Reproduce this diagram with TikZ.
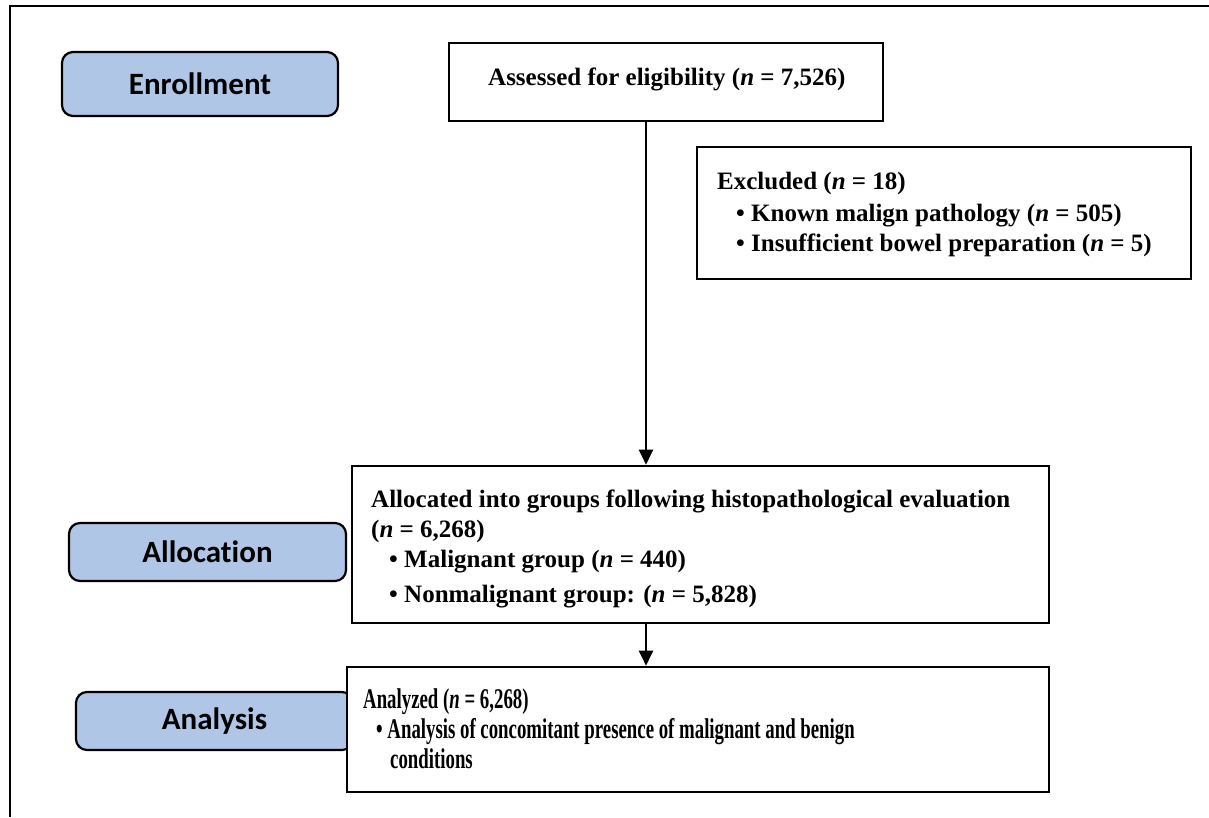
\documentclass[tikz,border=0pt]{standalone}
\usepackage{fontspec}
\setmainfont{Liberation Serif}
\newfontfamily\labelfont[Ligatures={NoCommon,NoRare}]{Carlito}
\newfontfamily\condfont[FakeStretch=0.66]{Liberation Serif}
\usetikzlibrary{arrows.meta}
\definecolor{labelblue}{HTML}{B0C6E6}
\tikzset{
  phase/.style={draw=black, line width=2.2pt, fill=labelblue, rounded corners=11pt,
    inner sep=0pt, font=\labelfont\bfseries\fontsize{31}{36}\selectfont},
  mainbox/.style={draw=black, line width=2.6pt, fill=white, inner sep=0pt},
  txt/.style={anchor=base west, inner sep=0pt, font=\bfseries\fontsize{25}{30}\selectfont},
  ctxt/.style={anchor=base west, inner sep=0pt, font=\condfont\bfseries\fontsize{28.5}{30}\selectfont},
  arr/.style={draw=black, line width=2pt, -{Triangle[width=14pt,length=15pt]}},
  frame/.style={draw=black, line width=2.2pt}
}
\begin{document}
\begin{tikzpicture}[x=1pt, y=-1pt]
\useasboundingbox (0,0) rectangle (1209,817);
% outer frame
\coordinate (fb) at (10,817);
\coordinate (ftl) at (10,6);
\coordinate (ftr) at (1209,6);
\draw[frame] (fb) -- (ftl) -- (ftr);

% phase labels
\node[phase, minimum width=276pt, minimum height=64pt] (enr) at (200,84) {Enrollment};
\node[phase, minimum width=277pt, minimum height=58pt] (allocl) at (207.5,552) {Allocation};
\node[phase, minimum width=277pt, minimum height=58pt] (anl) at (214.5,721) {Analysis};

% main boxes
\node[mainbox, minimum width=434pt, minimum height=78pt] (assess) at (666,82) {};
\node[mainbox, minimum width=494pt, minimum height=132pt] (excl) at (944,213) {};
\node[mainbox, minimum width=697pt, minimum height=157pt] (alloc) at (700.5,544.5) {};
\node[mainbox, minimum width=702pt, minimum height=125pt] (analy) at (698,729.5) {};

% texts
\node[txt] (t1) at (488,85) {Assessed for eligibility (\textit{n} = 7,526)};

\node[txt] (e1) at (717,189) {Excluded (\textit{n} = 18)};
\node[txt] (e2) at (736,221) {\textbullet\ Known malign pathology (\textit{n} = 505)};
\node[txt] (e3) at (736,251) {\textbullet\ Insufficient bowel preparation (\textit{n} = 5)};

\node[txt] (a1) at (371,507) {Allocated into groups following histopathological evaluation};
\node[txt] (a2) at (371,537) {(\textit{n} = 6,268)};
\node[txt] (a3) at (389,567) {\textbullet\ Malignant group (\textit{n} = 440)};
\node[txt] (a4) at (389,602) {\textbullet\ Nonmalignant group: (\textit{n} = 5,828)};

\node[ctxt] (z1) at (363,708) {Analyzed (\textit{n} = 6,268)};
\node[ctxt] (z2) at (376,738) {\textbullet\ Analysis of concomitant presence of malignant and benign};
\node[ctxt] (z3) at (390,768) {conditions};

% connectors
\coordinate (ax) at (646,0);
\draw[arr] (assess.south -| ax) -- (alloc.north -| ax);
\draw[arr] (alloc.south -| ax) -- (analy.north -| ax);
\end{tikzpicture}
\end{document}
